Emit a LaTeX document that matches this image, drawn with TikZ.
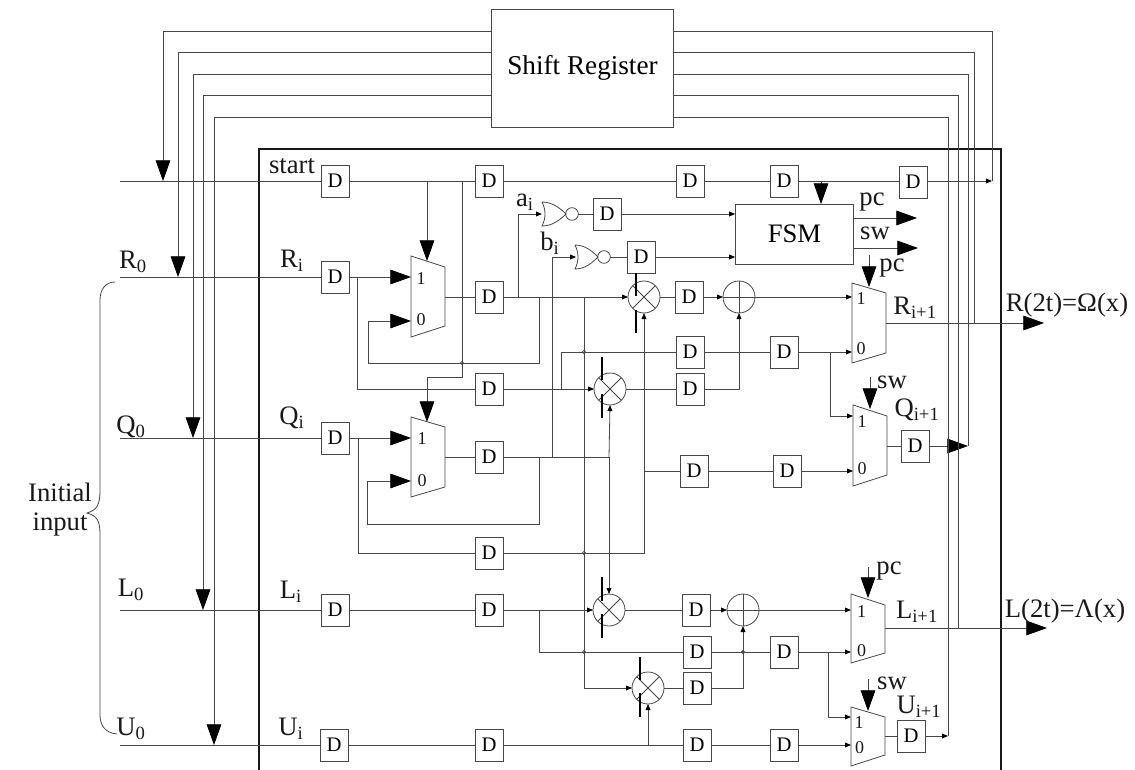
\documentclass[tikz,border=0pt]{standalone}
\usepackage{fontspec}
\setmainfont{Liberation Serif}
\usetikzlibrary{arrows.meta}
\colorlet{wirecol}{black!72}
\newcommand{\Sub}[1]{\textsubscript{#1}}

\begin{document}
\begin{tikzpicture}[x=0.75pt, y=-0.75pt,
    wire/.style={draw=wirecol, line width=0.6pt},
    bigarrow/.style={wire, -{Triangle[length=15.5pt, width=11pt, color=black]}},
    smallarrow/.style={wire, -{Triangle[length=4.5pt, width=3.6pt, color=black]}},
    dbox/.style={rectangle, wire, minimum width=21pt, minimum height=24pt, inner sep=0pt, outer sep=0pt, font=\fontsize{15.5}{15.5}\selectfont},
    mult/.style={circle, wire, minimum size=24pt, inner sep=0pt, outer sep=0pt,
        path picture={\draw[wire] (path picture bounding box.north west) -- (path picture bounding box.south east)
            (path picture bounding box.north east) -- (path picture bounding box.south west);}},
    adder/.style={circle, wire, minimum size=24pt, inner sep=0pt, outer sep=0pt,
        path picture={\draw[wire] (path picture bounding box.north) -- (path picture bounding box.south)
            (path picture bounding box.east) -- (path picture bounding box.west);}},
    bubble/.style={circle, wire, minimum size=9.5pt, inner sep=0pt, outer sep=0pt},
    hop/.style={circle, wire, minimum size=2.4pt, inner sep=0pt},
    mbar/.style={draw=black, line width=1.7pt},
    lbl/.style={inner sep=0pt, text=black!90, font=\fontsize{20}{22}\selectfont},
    muxlbl/.style={inner sep=0pt, text=black!90, font=\fontsize{13.5}{14}\selectfont}]

    \useasboundingbox (0,0) rectangle (1135,770);

    % Shift register and FSM
    \node[rectangle, wire, minimum width=137pt, minimum height=88.5pt, inner sep=0pt, outer sep=0pt, font=\fontsize{20.4}{22}\selectfont] (sr) at (582.5,68) {Shift Register};
    \node[rectangle, wire, minimum width=89pt, minimum height=45pt, inner sep=0pt, outer sep=0pt, font=\fontsize{20}{22}\selectfont] (fsm) at (794.5,234) {FSM};

    % Frame
    \coordinate (frameA) at (259,770);
    \coordinate (frameB) at (1001,149);
    \draw[draw=black!90, line width=1.3pt] (frameA) |- (frameB) -- (frameB |- frameA);

    % Start row
    \coordinate (startin) at (120,181);
    \coordinate (startend) at (992,181);
    \node[dbox] (dS1) at (335,181) {D};
    \node[dbox] (dS2) at (489,181) {D};
    \node[dbox] (dS3) at (690,181) {D};
    \node[dbox] (dS4) at (784,181) {D};
    \node[dbox] (dS5) at (913,182) {D};

    % Rows R, Q, L, U
    \coordinate (rin) at (120,277);
    \coordinate (qin) at (120,438);
    \coordinate (lin) at (120,610);
    \coordinate (uin) at (120,745);
    \node[dbox] (dR1) at (335,277) {D};
    \node[dbox] (dR2) at (489,297) {D};
    \node[dbox] (dRm) at (689,297) {D};
    \node[dbox] (dA) at (607,214) {D};
    \node[dbox] (dB) at (641,257) {D};
    \node[dbox] (dP1) at (690,352) {D};
    \node[dbox] (dP2) at (784,352) {D};
    \node[dbox] (dX) at (489,389) {D};
    \node[dbox] (dXm) at (690,389) {D};
    \node[dbox] (dQ1) at (335,438) {D};
    \node[dbox] (dQ2) at (489,457) {D};
    \node[dbox] (dY1) at (694,471) {D};
    \node[dbox] (dY2) at (787,471) {D};
    \node[dbox] (dZ) at (489,553) {D};
    \node[dbox] (dL1) at (335,610) {D};
    \node[dbox] (dL2) at (489,610) {D};
    \node[dbox] (dLm) at (696,610) {D};
    \node[dbox] (dT1) at (697,652) {D};
    \node[dbox] (dT2) at (784,652) {D};
    \node[dbox] (dW) at (697,688) {D};
    \node[dbox] (dU1) at (334,745) {D};
    \node[dbox] (dU2) at (489,745) {D};
    \node[dbox] (dV1) at (697,745) {D};
    \node[dbox] (dV2) at (784,745) {D};
    \node[dbox] (dQo) at (915,446) {D};
    \node[dbox] (dUo) at (911,736) {D};

    % Multipliers and adders
    \node[mult] (mR) at (644,297) {};
    \node[mult] (mX) at (610,389) {};
    \node[mult] (mL) at (609,610) {};
    \node[mult] (mW) at (648,688) {};
    \node[adder] (aR) at (739,297) {};
    \node[adder] (aL) at (743,610) {};
    \draw[mbar] (636,273) -- (636,296) (636,310) -- (636,333);
    \draw[mbar] (602,357) -- (602,380) (602,394) -- (602,418);
    \draw[mbar] (602,577) -- (602,601) (602,614) -- (602,638);
    \draw[mbar] (640,657) -- (640,680) (640,693) -- (640,717);

    % Muxes
    \draw[wire] (411,256) -- (445,267) -- (445,326) -- (411,337) -- cycle;
    \draw[wire] (411,417) -- (445,427) -- (445,487) -- (411,497) -- cycle;
    \draw[wire] (852,283) -- (886,293) -- (886,353) -- (852,363) -- cycle;
    \draw[wire] (853,405) -- (887,416) -- (887,475) -- (853,486) -- cycle;
    \draw[wire] (851,594) -- (885,605) -- (885,653) -- (851,663) -- cycle;
    \draw[wire] (851,707) -- (885,717) -- (885,755) -- (851,766) -- cycle;
    \coordinate (muxA1) at (411,277);
    \coordinate (muxA0) at (411,321);
    \coordinate (muxAo) at (445,297);
    \coordinate (muxAs) at (427,261);
    \coordinate (muxB1) at (411,438);
    \coordinate (muxB0) at (411,481);
    \coordinate (muxBo) at (445,457);
    \coordinate (muxBs) at (427,422);
    \coordinate (muxC1) at (852,297);
    \coordinate (muxC0) at (852,352);
    \coordinate (muxCo) at (886,323);
    \coordinate (muxD1) at (853,416);
    \coordinate (muxD0) at (853,471);
    \coordinate (muxDo) at (887,446);
    \coordinate (muxE1) at (851,610);
    \coordinate (muxE0) at (851,652);
    \coordinate (muxEo) at (885,628);
    \coordinate (muxF1) at (851,717);
    \coordinate (muxF0) at (851,745);
    \coordinate (muxFo) at (885,736);
    \node[muxlbl] (n1a) at (421,279) {1};
    \node[muxlbl] (n0a) at (421,320) {0};
    \node[muxlbl] (n1b) at (422,439) {1};
    \node[muxlbl] (n0b) at (422,481) {0};
    \node[muxlbl] (n1c) at (861,299) {1};
    \node[muxlbl] (n0c) at (861,349) {0};
    \node[muxlbl] (n1d) at (862,422) {1};
    \node[muxlbl] (n0d) at (862,469) {0};
    \node[muxlbl] (n1e) at (861.5,612) {1};
    \node[muxlbl] (n0e) at (861.5,651) {0};
    \node[muxlbl] (n1f) at (859,723) {1};
    \node[muxlbl] (n0f) at (859.5,748) {0};

    % NOR gates
    \draw[wire] (542,202) .. controls (552,202) and (560,208) .. (566,214)
        .. controls (560,220) and (552,226) .. (542,226)
        .. controls (546,218) and (546,210) .. (542,202);
    \draw[wire] (575,245) .. controls (585,245) and (592,251) .. (598,257)
        .. controls (592,263) and (585,269) .. (575,269)
        .. controls (579,261) and (579,253) .. (575,245);
    \node[bubble] (nor1) at (572,214) {};
    \node[bubble] (nor2) at (604,257) {};
    \coordinate (nor1a) at (542,214);
    \coordinate (nor2a) at (576,257);

    % Junctions
    \coordinate (jS1) at (427,181);
    \coordinate (jS2) at (462,181);
    \coordinate (jS3) at (821,181);
    \coordinate (jR1) at (518,297);
    \coordinate (jR2) at (539,297);
    \coordinate (jR3) at (584,297);
    \coordinate (jQ1) at (539,457);
    \coordinate (jQ2) at (552,457);
    \coordinate (jQ3) at (609,457);
    \coordinate (jT1) at (539,610);
    \coordinate (jU1) at (648,745);

    % Start row wires
    \draw[wire] (startin) -- (dS1);
    \draw[wire] (dS1) -- (dS2);
    \draw[wire] (dS2) -- (dS3);
    \draw[wire] (dS3) -- (dS4);
    \draw[wire] (dS4) -- (dS4 -| dS5.west);
    \draw[smallarrow] (dS5.east |- startend) -- (startend);
    \draw[bigarrow] (jS1) -- (muxAs);
    \draw[bigarrow] (jS2) -- (462,377) -| (muxBs);
    \draw[bigarrow] (jS3) -- (jS3 |- fsm.north);

    % R and Q inputs
    \draw[wire] (rin) -- (dR1);
    \draw[wire] (qin) -- (dQ1);
    \draw[wire] (lin) -- (dL1);
    \draw[wire] (uin) -- (dU1);
    \draw[bigarrow] (dR1) -- (muxA1);
    \draw[bigarrow] (dQ1) -- (muxB1);
    \draw[wire] (357,277) |- (dX);
    \draw[wire] (358,438) |- (dZ);
    \draw[wire] (muxAo) -- (dR2);
    \draw[wire] (muxBo) -- (dQ2);
    \draw[bigarrow] (jR2) -- (539,363) -- (368,363) |- (muxA0);
    \draw[bigarrow] (jQ1) -- (539,524) -- (367,524) |- (muxB0);
    \draw[smallarrow] (dR2) -- (mR);
    \draw[wire] (dQ2) -- (jQ3);
    \draw[smallarrow] (jR1) |- (nor1a);
    \draw[smallarrow] (jQ2) |- (nor2a);
    \draw[wire] (nor1) -- (dA);
    \draw[wire] (nor2) -- (dB);
    \draw[smallarrow] (dA) -- (dA -| fsm.west);
    \draw[smallarrow] (dB) -- (dB -| fsm.west);
    \draw[smallarrow] (dZ) -| (mR.south);
    \draw[smallarrow] (jQ3) -- (mX.south);
    \draw[smallarrow] (jQ3) -- (mL.north);

    % Middle wires
    \draw[smallarrow] (dX) -- (mX);
    \draw[wire] (561,389) |- (dP1);
    \draw[wire] (dP1) -- (dP2);
    \draw[smallarrow] (dP2) -- (muxC0);
    \draw[smallarrow] (830,352) |- (muxD1);
    \draw[wire] (mR) -- (dRm);
    \draw[smallarrow] (dRm) -- (aR);
    \draw[smallarrow] (aR) -- (muxC1);
    \draw[wire] (mX) -- (dXm);
    \draw[smallarrow] (dXm) -| (aR.south);
    \draw[smallarrow] (jR3) |- (mW);
    \draw[wire] (644,471) -- (dY1);
    \draw[wire] (dY1) -- (dY2);
    \draw[smallarrow] (dY2) -- (muxD0);

    % L and U wires
    \draw[wire] (dL1) -- (dL2);
    \draw[smallarrow] (dL2) -- (mL);
    \draw[wire] (mL) -- (dLm);
    \draw[smallarrow] (dLm) -- (aL);
    \draw[smallarrow] (aL) -- (muxE1);
    \draw[wire] (jT1) |- (dT1);
    \draw[wire] (dT1) -- (dT2);
    \draw[smallarrow] (dT2) -- (muxE0);
    \draw[smallarrow] (828,652) |- (muxF1);
    \draw[wire] (mW) -- (dW);
    \draw[smallarrow] (dW) -| (aL.south);
    \draw[wire] (dU1) -- (dU2);
    \draw[wire] (dU2) -- (dV1);
    \draw[wire] (dV1) -- (dV2);
    \draw[smallarrow] (dV2) -- (muxF0);
    \draw[smallarrow] (jU1) -- (mW.south);

    % Hops and dots
    \node[hop] (h1) at (462,363) {};
    \node[hop] (h2) at (584,352) {};
    \node[hop] (h3) at (584,553) {};
    \node[hop] (h4) at (584,652) {};
    \node[hop, fill=wirecol] (h5) at (743,652) {};

    % Outputs
    \draw[bigarrow] (muxCo) -- (1044,323);
    \draw[bigarrow] (muxEo) -- (1047,628);
    \draw[wire] (muxDo) -- (dQo);
    \draw[bigarrow] (dQo) -- (968,446);
    \draw[wire] (muxFo) -- (dUo);
    \draw[smallarrow] (dUo) -- (948,736);
    \draw[bigarrow] (fsm.east |- 0,218) -- (917,218);
    \draw[bigarrow] (fsm.east |- 0,248) -- (918,248);

    % Select arrows
    \draw[bigarrow] (869,255) -- (869,287);
    \draw[bigarrow] (870,377) -- (870,409);
    \draw[bigarrow] (868,567) -- (868,598);
    \draw[bigarrow] (868,679) -- (868,711);

    % Feedback from the shift register
    \draw[bigarrow] (sr.west |- 0,31) -| (163,0 |- startin);
    \draw[bigarrow] (sr.west |- 0,52) -| (178,0 |- rin);
    \draw[bigarrow] (sr.west |- 0,74) -| (193,0 |- qin);
    \draw[bigarrow] (sr.west |- 0,95) -| (203,0 |- lin);
    \draw[bigarrow] (sr.west |- 0,117) -| (214,0 |- uin);
    \draw[wire] (sr.east |- 0,31) -| (startend);
    \draw[wire] (sr.east |- 0,52) -| (974,0 |- muxCo);
    \draw[wire] (sr.east |- 0,74) -| (968,446);
    \draw[wire] (sr.east |- 0,95) -| (958,0 |- muxEo);
    \draw[wire] (sr.east |- 0,117) -| (948,736);

    % Brace
    \draw[wire] (115,282) .. controls (105,282) and (100,290) .. (100,300) -- (100,490)
        .. controls (100,505) and (97,510) .. (87,513)
        .. controls (97,516) and (100,520) .. (100,535) -- (100,715)
        .. controls (100,725) and (105,733) .. (117,734);

    % Labels
    \node[lbl] (tInit) at (60,492) {Initial};
    \node[lbl] (tInput) at (60,525) {input};
    \node[lbl] (tR0) at (133,262) {R\Sub{0}};
    \node[lbl] (tQ0) at (131,427) {Q\Sub{0}};
    \node[lbl] (tL0) at (131,590) {L\Sub{0}};
    \node[lbl] (tU0) at (131,729) {U\Sub{0}};
    \node[lbl] (tStart) at (292,166) {start};
    \node[lbl] (tRi) at (292,261) {R\Sub{i}};
    \node[lbl] (tQi) at (292,418) {Q\Sub{i}};
    \node[lbl] (tLi) at (291,592) {L\Sub{i}};
    \node[lbl] (tUi) at (291,729) {U\Sub{i}};
    \node[lbl] (tAi) at (525,202) {a\Sub{i}};
    \node[lbl] (tBi) at (550,243) {b\Sub{i}};
    \node[lbl] (tPc1) at (872,202) {pc};
    \node[lbl] (tSw1) at (875,233) {sw};
    \node[lbl] (tPc2) at (892,268) {pc};
    \node[lbl] (tSw2) at (892,382) {sw};
    \node[lbl] (tPc3) at (889,571) {pc};
    \node[lbl] (tSw3) at (892,683) {sw};
    \node[lbl] (tRn) at (915,308) {R\Sub{i+1}};
    \node[lbl] (tQn) at (917,410) {Q\Sub{i+1}};
    \node[lbl] (tLn) at (917,612) {L\Sub{i+1}};
    \node[lbl] (tUn) at (919,707) {U\Sub{i+1}};
    \node[lbl] (tRout) at (1067,305) {R(2t)=Ω(x)};
    \node[lbl] (tLout) at (1065,611) {L(2t)=Λ(x)};

\end{tikzpicture}
\end{document}
